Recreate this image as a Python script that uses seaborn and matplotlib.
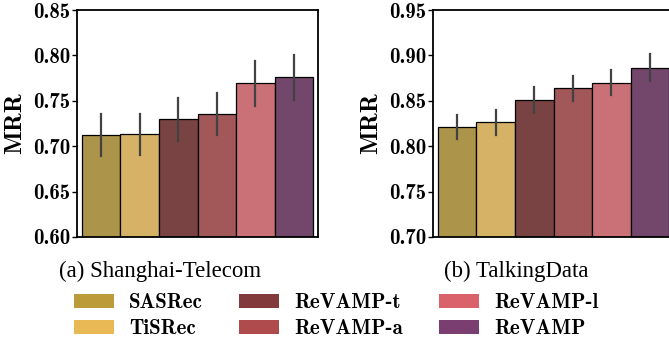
import matplotlib
matplotlib.use("Agg")
import matplotlib.pyplot as plt
import matplotlib.patches as mpatches
import seaborn as sns
import pandas as pd
import numpy as np

# ---- data ----
models = ["SASRec", "TiSRec", "ReVAMP-t", "ReVAMP-a", "ReVAMP-l", "ReVAMP"]
colors = ["#BC9C3A", "#E8B955", "#833A3A", "#AF4A4D", "#D9626B", "#7A3E71"]

st_mrr = [0.712, 0.713, 0.7296, 0.7355, 0.7693, 0.7759]
st_err = [0.023, 0.023, 0.0235, 0.0235, 0.0247, 0.0248]

td_mrr = [0.8213, 0.8262, 0.8511, 0.8637, 0.8699, 0.8864]
td_err = [0.0136, 0.0136, 0.014, 0.014, 0.014, 0.0147]

st_ticks = [0.60, 0.65, 0.70, 0.75, 0.80, 0.85]
td_ticks = [0.70, 0.75, 0.80, 0.85, 0.90, 0.95]

captions = ["(a) Shanghai-Telecom", "(b) TalkingData"]
ylabel = "MRR"

plt.rcParams["font.family"] = "cmb10"
plt.rcParams["axes.unicode_minus"] = False
plt.rcParams["axes.formatter.use_mathtext"] = True

W, H = 669, 344
fig = plt.figure(figsize=(W / 100, H / 100), dpi=100)

def build(means, errs, name):
    rows = []
    for m, mu, e in zip(models, means, errs):
        rows.append({"ds": name, "model": m, "v": mu - e})
        rows.append({"ds": name, "model": m, "v": mu + e})
    return pd.DataFrame(rows)

panels = [
    (77, st_mrr, st_err, st_ticks, "st"),
    (433, td_mrr, td_err, td_ticks, "td"),
]
axw, axb, axh = 241 / W, (H - 237) / H, 227 / H
for left, means, errs, ticks, name in panels:
    ax = fig.add_axes([left / W, axb, axw, axh])
    df = build(means, errs, name)
    sns.barplot(data=df, x="ds", y="v", hue="model", hue_order=models,
                palette=colors, errorbar=lambda v: (v.min(), v.max()),
                err_kws={"color": ".26", "linewidth": 1.6},
                edgecolor="black", linewidth=0.9, width=0.8, gap=0,
                legend=False, ax=ax)
    ax.set_xlim(-0.4162, 0.4162)
    ax.set_ylim(ticks[0], ticks[-1])
    ax.set_yticks(ticks)
    ax.set_yticklabels([f"{t:.2f}" for t in ticks])
    ax.set_xticks([])
    ax.set_xlabel("")
    ax.set_ylabel(ylabel, fontsize=18, labelpad=5)
    ax.tick_params(axis="y", labelsize=15, length=3.5, width=1, pad=1.5)
    for s in ax.spines.values():
        s.set_linewidth(1.3)
        s.set_color("black")

fig.text(160.5 / W, 1 - 271 / H, captions[0], family="Liberation Serif",
         fontsize=16.5, ha="center", va="center")
fig.text(516.5 / W, 1 - 271 / H, captions[1], family="Liberation Serif",
         fontsize=16.5, ha="center", va="center")

handles = [mpatches.Patch(facecolor=c, edgecolor="none", label=m)
           for m, c in zip(models, colors)]
fs = 15
fig.legend(handles=handles, ncol=3, loc="upper left",
           bbox_to_anchor=(74 / W, 1 - 293 / H), frameon=False,
           fontsize=fs, handlelength=40 / (fs * 1.389), handleheight=14 / (fs * 1.389),
           handletextpad=15 / (fs * 1.389), columnspacing=1.75, labelspacing=0.35,
           borderpad=0, borderaxespad=0)

fig.savefig("out.png", dpi=100)
